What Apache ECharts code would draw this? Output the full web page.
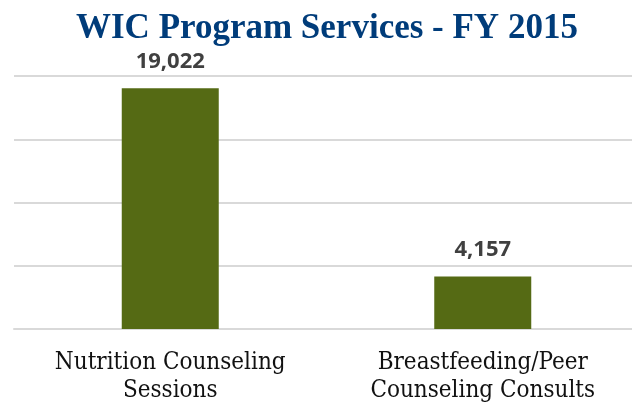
<!DOCTYPE html>
<html>
<head>
<meta charset="utf-8">
<script src="https://cdn.jsdelivr.net/npm/echarts@6/dist/echarts.min.js"></script>
<style>
    html, body { margin: 0; padding: 0; background: #fff; }
    #chart { width: 632px; height: 409px; }
</style>
</head>
<body>
<div id="chart"></div>
<script>
// data
const categories = ['Nutrition Counseling\nSessions', 'Breastfeeding/Peer\nCounseling Consults']
const services = [19022, 4157]

let myChart = echarts.init(document.getElementById('chart'))
const option = {
    title: {
        text: 'WIC Program Services - FY 2015',
        left: 71,
        top: 6,
        textStyle: {
            color: '#003c7a',
            fontFamily: 'Liberation Serif',
            fontWeight: 'bold',
            fontSize: 35
        }
    },
    grid: {
        left: 14,
        top: 76,
        width: 625,
        height: 253,
        outerBoundsMode: 'none'
    },
    xAxis: {
        type: 'category',
        data: categories,
        axisTick: { show: false },
        axisLine: {
            lineStyle: { color: '#d9d9d9', width: 2 }
        },
        axisLabel: {
            color: '#111',
            fontFamily: 'DejaVu Serif Condensed',
            fontSize: 24,
            lineHeight: 28,
            margin: 20
        }
    },
    yAxis: {
        type: 'value',
        min: 0,
        max: 20000,
        interval: 5000,
        axisLabel: { show: false },
        axisLine: { show: false },
        axisTick: { show: false },
        splitLine: {
            lineStyle: { color: '#d9d9d9', width: 2 }
        }
    },
    series: [
        {
            type: 'bar',
            data: services,
            barWidth: 97,
            itemStyle: { color: '#556a14' },
            label: {
                show: true,
                position: 'top',
                distance: 16,
                color: '#404040',
                fontFamily: 'Noto Sans',
                fontWeight: 'bold',
                fontSize: 22,
                formatter: p => p.value.toLocaleString('en-US')
            }
        }
    ]
}
option && myChart.setOption(option)
</script>
</body>
</html>
